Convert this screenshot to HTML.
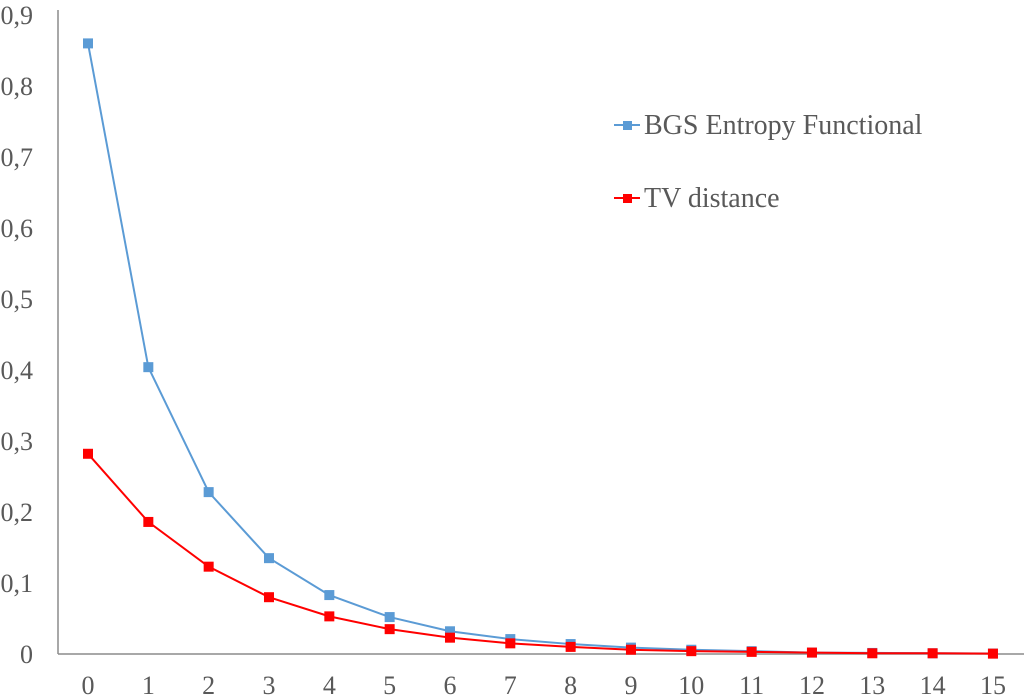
<!DOCTYPE html>
<html><head><meta charset="utf-8"><style>
body{margin:0;background:#fff}
svg{display:block;font-family:"Liberation Serif",serif}
</style></head><body>
<svg id="chart" width="1024" height="697" viewBox="0 0 1024 697"></svg>
<script>
const categories=[0,1,2,3,4,5,6,7,8,9,10,11,12,13,14,15];
const bgsValues=[0.860,0.404,0.228,0.135,0.083,0.052,0.032,0.021,0.014,0.009,0.006,0.004,0.002,0.0015,0.001,0.0007];
const tvValues=[0.282,0.186,0.123,0.080,0.053,0.035,0.023,0.015,0.010,0.006,0.004,0.003,0.002,0.001,0.001,0.0005];
const yTicks=[0,0.1,0.2,0.3,0.4,0.5,0.6,0.7,0.8,0.9];
const yTickLabels=["0","0,1","0,2","0,3","0,4","0,5","0,6","0,7","0,8","0,9"];
const NS="http://www.w3.org/2000/svg";
const svg=document.getElementById('chart');
const xs=c=>88+c*60.33;
const ys=v=>654-v*710;
function mk(t,a,p){const e=document.createElementNS(NS,t);for(const k in a)e.setAttribute(k,a[k]);(p||svg).appendChild(e);return e;}
const yAxis=mk('line',{x1:58,y1:10,x2:58,y2:654,stroke:'#8c8c8c','stroke-width':1.5});


const xAxis=mk('line',{x1:58,y1:654,x2:1024,y2:654,stroke:'#8c8c8c','stroke-width':1.5});


yTicks.forEach((v,i)=>{const t=mk('text',{x:33,y:ys(v)+9,'text-anchor':'end','font-size':26,fill:'#595959'});t.textContent=yTickLabels[i];

});
categories.forEach(c=>{const t=mk('text',{x:xs(c),y:694,'text-anchor':'middle','font-size':26,fill:'#595959'});t.textContent=String(c);

});
function series(vals,color,name){
const g=mk('g',{});


mk('polyline',{points:vals.map((v,i)=>xs(categories[i])+','+ys(v)).join(' '),fill:'none',stroke:color,'stroke-width':2},g);
vals.forEach((v,i)=>{const r=mk('rect',{x:xs(categories[i])-5,y:ys(v)-5,width:10,height:10,fill:color},g);

});
}
series(bgsValues,'#5b9bd5','bgs-series');
series(tvValues,'#ff0000','tv-series');
function legend(y,color,label,name){
const g=mk('g',{});


mk('line',{x1:614,y1:y,x2:640,y2:y,stroke:color,'stroke-width':2},g);
mk('rect',{x:623,y:y-4,width:9,height:9,fill:color},g);
const t=mk('text',{x:644,y:y+9,'font-size':28,fill:'#595959'},g);t.textContent=label;
}
legend(125,'#5b9bd5','BGS Entropy Functional','legend-entry-bgs');
legend(198,'#ff0000','TV distance','legend-entry-tv');
</script>
</body></html>
